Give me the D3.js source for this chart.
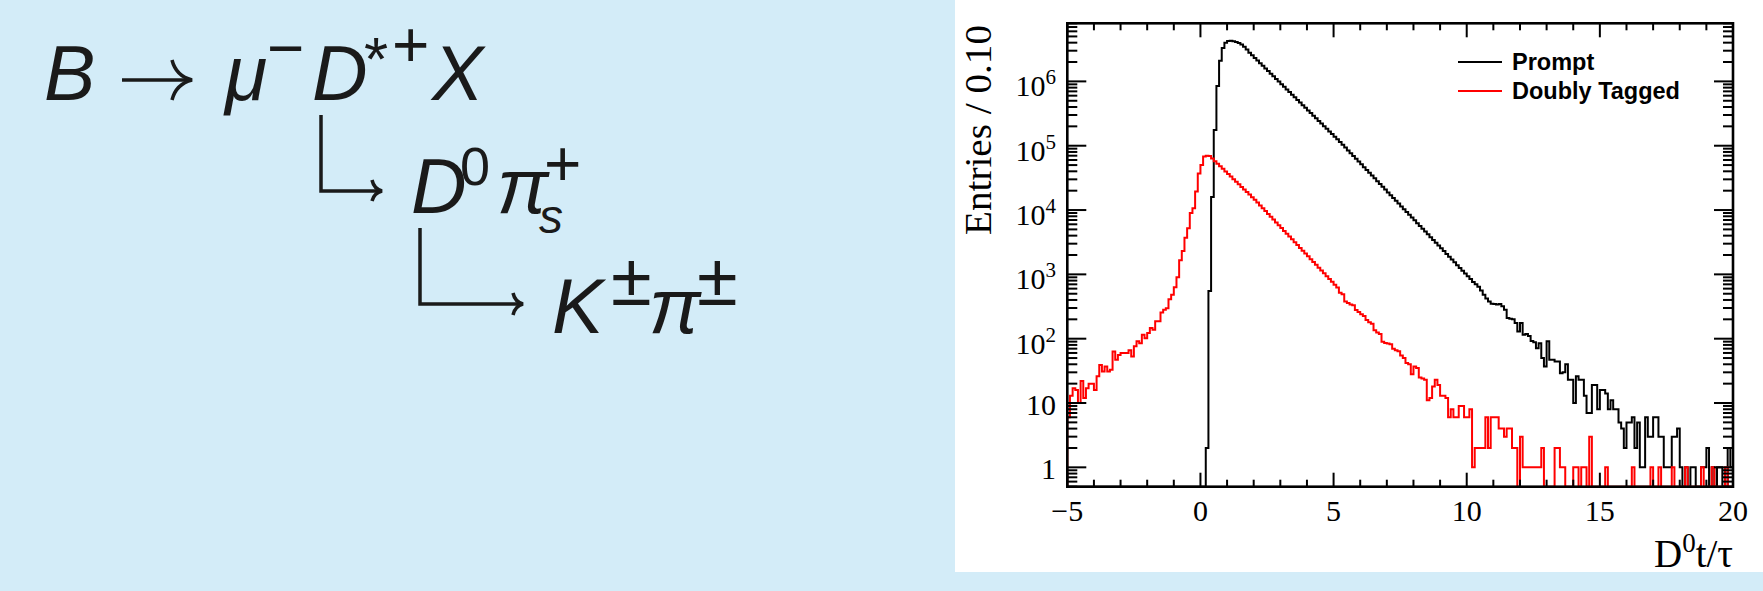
<!DOCTYPE html>
<html>
<head>
<meta charset="utf-8">
<script src="https://cdn.jsdelivr.net/npm/d3@7"></script>
<style>
  body { margin: 0; background: #d3ecf8; }
  svg { display: block; }
  .formula text { font-family: 'Liberation Sans', Arial, sans-serif; fill: #1a1a1a; }
  .formula path { fill: none; stroke: #1a1a1a; stroke-width: 3.5; stroke-linecap: butt; }
  .serif { font-family: 'Liberation Serif', 'Times New Roman', serif; fill: #000; }
  .legend text { font-family: 'Liberation Sans', Arial, sans-serif; font-weight: bold; font-size: 23.5px; fill: #000; }
</style>
</head>
<body>
<svg id="d0-lifetime" width="1763" height="591"></svg>
<script>
// bins of 0.1 in D0 t/tau, from -5 to 20 (250 bins)
const binStart = -5
const binWidth = 0.1

const promptCounts = [
    0, 0, 0, 0, 0, 0, 0, 0, 0, 0,
    0, 0, 0, 0, 0, 0, 0, 0, 0, 0,
    0, 0, 0, 0, 0, 0, 0, 0, 0, 0,
    0, 0, 0, 0, 0, 0, 0, 0, 0, 0,
    0, 0, 0, 0, 0, 0, 0, 0, 0, 0,
    0, 0, 2, 550, 16000, 175000, 850000, 2100000, 3300000, 4000000,
    4250000, 4270000, 4200000, 4100000, 3950000, 3750000, 3450000, 3120000, 2800000, 2548000,
    2319000, 2111000, 1921000, 1749000, 1592000, 1449000, 1319000, 1200000, 1093000, 994500,
    905200, 824000, 750000, 682600, 621300, 565500, 514700, 468500, 426400, 388100,
    353300, 321600, 292700, 266400, 242500, 220700, 200900, 182800, 166400, 151500,
    137900, 125500, 114200, 103300, 93500, 84600, 76500, 69200, 62600, 56700,
    51300, 46400, 42000, 37900, 34300, 31100, 28100, 25400, 23000, 20800,
    18800, 17000, 15400, 13900, 12600, 11400, 10300, 9340, 8450, 7640,
    6920, 6250, 5660, 5120, 4630, 4190, 3790, 3430, 3100, 2810,
    2540, 2300, 2080, 1880, 1700, 1540, 1390, 1260, 1140, 1030,
    933, 844, 764, 700, 640, 560, 480, 420, 380, 350,
    345, 340, 345, 320, 283, 210, 205, 200, 175, 129,
    175, 115, 118, 110, 92, 88, 71, 85, 50, 37,
    91, 47, 47, 44, 44, 29, 30, 40, 23, 23,
    10, 26, 23, 23, 13, 7, 7, 19, 19, 8,
    16, 16, 14, 8, 11, 8, 8, 5, 4, 2,
    5, 5, 6, 2, 5, 1, 1, 6, 3, 3,
    6, 6, 3, 3, 1, 1, 1, 3, 3, 4,
    1, 0, 1, 0, 1, 1, 0, 0, 1, 1,
    2, 0, 1, 0, 1, 1, 0, 0, 2, 1
]

const taggedCounts = [
    6, 13, 17, 16, 10, 22, 12, 17, 20, 20,
    16, 26, 39, 31, 37, 31, 33, 63, 47, 56,
    60, 60, 60, 66, 53, 76, 91, 85, 115, 102,
    123, 146, 138, 186, 186, 256, 283, 298, 411, 480,
    632, 900, 1650, 2300, 3700, 5200, 9000, 10700, 19500, 37000,
    50000, 68000, 70000, 69000, 63100, 57500, 52500, 47900, 43700, 39800,
    36300, 33100, 30200, 27500, 25100, 22900, 20900, 19100, 17400, 15800,
    14500, 13100, 11800, 10700, 9640, 8710, 7870, 7110, 6430, 5810,
    5250, 4740, 4290, 3870, 3500, 3160, 2860, 2580, 2330, 2110,
    1910, 1720, 1560, 1410, 1270, 1150, 1040, 938, 847, 766,
    692, 625, 520, 490, 380, 360, 340, 330, 280, 260,
    240, 225, 195, 180, 170, 135, 125, 118, 90, 86,
    84, 82, 70, 66, 64, 55, 50, 42, 40, 28,
    37, 35, 25, 24, 23, 11, 12, 18, 23, 19,
    13, 13, 12, 6, 8, 6, 6, 9, 9, 6,
    6, 8, 1, 2, 2, 2, 2, 6, 2, 6,
    6, 6, 4, 4, 3, 4, 4, 2, 2, 0,
    3, 1, 1, 1, 1, 1, 1, 1, 2, 0,
    0, 0, 0, 2, 2, 1, 1, 0, 0, 0,
    1, 1, 0, 1, 1, 0, 3, 0, 0, 0,
    0, 0, 1, 0, 0, 0, 0, 0, 0, 0,
    0, 0, 1, 0, 0, 0, 0, 0, 0, 1,
    0, 0, 1, 0, 0, 0, 0, 1, 0, 0,
    0, 0, 1, 0, 0, 0, 0, 0, 1, 0,
    0, 0, 1, 0, 0, 0, 0, 1, 0, 0
]

const xTickValues = [-5, 0, 5, 10, 15, 20]
const xTickLabels = ['\u22125', '0', '5', '10', '15', '20']
const yDecades = [1, 10, 100, 1000, 10000, 100000, 1000000]
const yTickMantissa = ['1', '10', '10', '10', '10', '10', '10']
const yTickPower = ['', '', '2', '3', '4', '5', '6']
const legendLabels = ['Prompt', 'Doubly Tagged']
const seriesColors = ['#000000', '#ff0000']

class LifetimeChart {
    constructor() {
        this.svg = d3.select('#d0-lifetime')

        this.DIMENSIONS = {
            width: 1763,
            height: 591,
            panel_left: 955,
            panel_bottom: 572,
            left: 1067.3,
            right: 1733,
            top: 23.3,
            bottom: 486.7
        }
        this.y_min = 0.5

        this.x_scale = d3.scaleLinear()
            .domain([binStart, binStart + binWidth * promptCounts.length])
            .range([this.DIMENSIONS.left, this.DIMENSIONS.right])
        this.y_scale = d3.scaleLog()
            .domain([this.y_min, 8e6])
            .range([this.DIMENSIONS.bottom, this.DIMENSIONS.top])

        this.drawBackground()
        this.drawFormula()
        this.drawHistograms()
        this.drawAxes()
        this.drawLegend()
    }

    drawBackground() {
        const D = this.DIMENSIONS
        this.svg.append('rect')
            .attr('width', D.width).attr('height', D.height)
            .attr('fill', '#d3ecf8')
        this.svg.append('rect')
            .attr('x', D.panel_left).attr('y', 0)
            .attr('width', D.width - D.panel_left).attr('height', D.panel_bottom)
            .attr('fill', '#ffffff')
    }

    // decay chain written on the left
    drawFormula() {
        const g = this.svg.append('g').attr('class', 'formula')
        const pieces = [
            { t: 'B', x: 44, y: 100, size: 77, italic: true },
            { t: '\u03bc', x: 225, y: 100, size: 77, italic: true },
            { t: '\u2212', x: 267, y: 70, size: 64 },
            { t: 'D', x: 312, y: 100, size: 77, italic: true },
            { t: '*', x: 364, y: 80, size: 62 },
            { t: '+', x: 392, y: 67, size: 64 },
            { t: 'X', x: 432, y: 100, size: 77, italic: true },
            { t: 'D', x: 411, y: 213, size: 77, italic: true },
            { t: '0', x: 460, y: 185, size: 54 },
            { t: '\u03c0', x: 497, y: 213, size: 77, italic: true },
            { t: '+', x: 544, y: 186, size: 64 },
            { t: 's', x: 539, y: 233, size: 48, italic: true },
            { t: 'K', x: 552, y: 333, size: 77, italic: true },
            { t: '\u00b1', x: 611, y: 305, size: 74 },
            { t: '\u03c0', x: 649, y: 333, size: 77, italic: true },
            { t: '\u00b1', x: 697, y: 305, size: 74 }
        ]
        g.selectAll('text')
            .data(pieces)
            .join('text')
            .attr('x', d => d.x)
            .attr('y', d => d.y)
            .attr('font-size', d => d.size)
            .attr('font-style', d => d.italic ? 'italic' : 'normal')
            .text(d => d.t)

        // arrows
        g.append('path').attr('d', 'M122,80 H190')
        g.append('path').attr('d', 'M172,60 Q176,76 192,80 Q176,84 172,100')
        g.append('path').attr('d', 'M321,115 V191 H380')
        g.append('path').attr('d', 'M372,180 Q374,189 382,191 Q374,193 372,201')
        g.append('path').attr('d', 'M420,228 V304 H521')
        g.append('path').attr('d', 'M513,293 Q515,302 523,304 Q515,306 513,315')
    }

    histPath(counts) {
        const n = counts.length
        const pts = counts.map((c, i) => [binStart + i * binWidth, Math.max(c, this.y_min)])
        pts.unshift([binStart, this.y_min])
        pts.push([binStart + n * binWidth, Math.max(counts[n - 1], this.y_min)])
        pts.push([binStart + n * binWidth, this.y_min])
        return d3.line()
            .x(d => this.x_scale(d[0]))
            .y(d => this.y_scale(d[1]))
            .curve(d3.curveStepAfter)(pts)
    }

    drawHistograms() {
        const D = this.DIMENSIONS
        this.svg.append('clipPath').attr('id', 'frame-clip')
            .append('rect')
            .attr('x', D.left).attr('y', D.top)
            .attr('width', D.right - D.left).attr('height', D.bottom - D.top)

        this.svg.append('g')
            .attr('clip-path', 'url(#frame-clip)')
            .selectAll('path')
            .data([promptCounts, taggedCounts])
            .join('path')
            .attr('d', d => this.histPath(d))
            .attr('fill', 'none')
            .attr('stroke', (d, i) => seriesColors[i])
            .attr('stroke-width', 2)
    }

    drawAxes() {
        const D = this.DIMENSIONS
        const g = this.svg.append('g').attr('stroke', '#000')

        // x ticks, bottom and top
        const xMinor = d3.range(-5, 20.001, 1)
        const xTick = g.selectAll('.xtick')
            .data(xMinor)
            .join('g')
            .attr('class', 'xtick')
        xTick.append('line')
            .attr('x1', d => this.x_scale(d)).attr('x2', d => this.x_scale(d))
            .attr('y1', D.bottom)
            .attr('y2', d => D.bottom - (d % 5 === 0 ? 14 : 7))
            .attr('stroke-width', 2)
        xTick.append('line')
            .attr('x1', d => this.x_scale(d)).attr('x2', d => this.x_scale(d))
            .attr('y1', D.top)
            .attr('y2', d => D.top + (d % 5 === 0 ? 14 : 7))
            .attr('stroke-width', 2)

        // y ticks, left and right
        const yTicks = []
        for (let e = -1; e <= 6; e++) {
            for (let k = 1; k <= 9; k++) {
                const v = k * Math.pow(10, e)
                if (v >= this.y_min && v <= 8e6) yTicks.push({ v: v, major: k === 1 })
            }
        }
        const yTick = g.selectAll('.ytick')
            .data(yTicks)
            .join('g')
            .attr('class', 'ytick')
        yTick.append('line')
            .attr('x1', D.left)
            .attr('x2', d => D.left + (d.major ? 19 : 10))
            .attr('y1', d => this.y_scale(d.v)).attr('y2', d => this.y_scale(d.v))
            .attr('stroke-width', 2)
        yTick.append('line')
            .attr('x1', D.right)
            .attr('x2', d => D.right - (d.major ? 19 : 10))
            .attr('y1', d => this.y_scale(d.v)).attr('y2', d => this.y_scale(d.v))
            .attr('stroke-width', 2)

        // frame
        g.append('rect')
            .attr('x', D.left).attr('y', D.top)
            .attr('width', D.right - D.left).attr('height', D.bottom - D.top)
            .attr('fill', 'none')
            .attr('stroke-width', 2.6)

        // x tick labels
        this.svg.append('g')
            .selectAll('text')
            .data(xTickValues)
            .join('text')
            .attr('class', 'serif')
            .attr('x', d => this.x_scale(d))
            .attr('y', 521)
            .attr('text-anchor', 'middle')
            .attr('font-size', 30)
            .text((d, i) => xTickLabels[i])

        // y tick labels
        const yl = this.svg.append('g')
            .selectAll('text')
            .data(yDecades)
            .join('text')
            .attr('class', 'serif')
            .attr('x', 1056)
            .attr('y', (d, i) => this.y_scale(d) + (yTickPower[i] ? 15 : 12))
            .attr('text-anchor', 'end')
            .attr('font-size', 30)
        yl.append('tspan').text((d, i) => yTickMantissa[i])
        yl.append('tspan')
            .attr('font-size', 21)
            .attr('dy', -12)
            .text((d, i) => yTickPower[i])

        // axis titles
        this.svg.append('text')
            .attr('class', 'serif')
            .attr('transform', 'translate(991, 25) rotate(-90)')
            .attr('text-anchor', 'end')
            .attr('font-size', 37)
            .attr('textLength', 210)
            .attr('lengthAdjust', 'spacingAndGlyphs')
            .text('Entries / 0.10')

        const xt = this.svg.append('text')
            .attr('class', 'serif')
            .attr('x', D.right)
            .attr('y', 567)
            .attr('text-anchor', 'end')
            .attr('font-size', 39)
        xt.append('tspan').text('D')
        xt.append('tspan').attr('font-size', 27).attr('dy', -15).text('0')
        xt.append('tspan').attr('dy', 15).text('t/\u03c4')
    }

    drawLegend() {
        const g = this.svg.append('g').attr('class', 'legend')
        const row = g.selectAll('g')
            .data(legendLabels)
            .join('g')
            .attr('transform', (d, i) => `translate(0, ${62 + i * 29})`)
        row.append('line')
            .attr('x1', 1458).attr('x2', 1502)
            .attr('stroke', (d, i) => seriesColors[i])
            .attr('stroke-width', 2)
        row.append('text')
            .attr('x', 1512)
            .attr('y', 7.5)
            .text(d => d)
    }
}

new LifetimeChart()
</script>
</body>
</html>
